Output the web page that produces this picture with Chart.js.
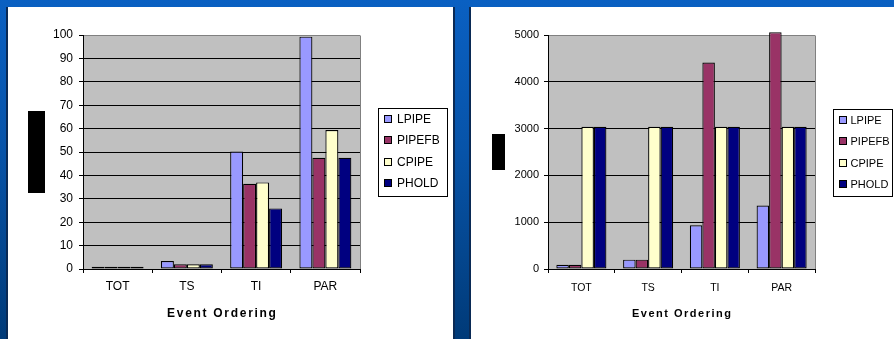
<!DOCTYPE html>
<html>
<head>
<meta charset="utf-8">
<script src="https://cdn.jsdelivr.net/npm/chart.js@4.4.1/dist/chart.umd.min.js"></script>
<style>
  html, body { margin: 0; padding: 0; width: 894px; height: 339px; overflow: hidden; }
  body {
    position: relative;
    background: linear-gradient(180deg, #0a60c2 0%, #0753a8 45%, #04468e 75%, #003a78 100%);
  }
  .panel {
    position: absolute; top: 7px; height: 332px; background: #fff;
    border-left: 2px solid #0a2a55; border-right: 2px solid #0a2a55;
  }
  #panelA { left: 6px; width: 445px; }
  #panelB { left: 469px; width: 423px; border-right: none; }
  canvas { display: block; }
</style>
</head>
<body>
<div class="panel" id="panelA"><canvas id="chartA" width="445" height="332"></canvas></div>
<div class="panel" id="panelB"><canvas id="chartB" width="423" height="332"></canvas></div>
<script>
// ---- data ----
const CATEGORIES = ['TOT', 'TS', 'TI', 'PAR'];
const SERIES = ['LPIPE', 'PIPEFB', 'CPIPE', 'PHOLD'];
const SERIES_COLORS = ['#9999ff', '#993366', '#ffffcc', '#000080'];
const AXIS_TITLE = 'Event Ordering';

// left chart
const A_LPIPE  = [1.0, 3.4, 50.2, 99.3];
const A_PIPEFB = [1.0, 2.0, 36.4, 47.5];
const A_CPIPE  = [1.0, 2.0, 37.0, 59.4];
const A_PHOLD  = [1.0, 2.0, 25.9, 47.5];
const A_TICKS  = [0, 10, 20, 30, 40, 50, 60, 70, 80, 90, 100];

// right chart
const B_LPIPE  = [90, 200, 935, 1355];
const B_PIPEFB = [90, 200, 4410, 5060];
const B_CPIPE  = [3040, 3040, 3040, 3040];
const B_PHOLD  = [3040, 3040, 3040, 3040];
const B_TICKS  = [0, 1000, 2000, 3000, 4000, 5000];

const FONT = 'Arial, "Liberation Sans", sans-serif';

// plot background, frame, boxed legend and spaced axis title
const excelFrame = {
  id: 'excelFrame',
  beforeDraw(chart) {
    const a = chart.chartArea, ctx = chart.ctx;
    ctx.save();
    ctx.fillStyle = '#c0c0c0';
    ctx.fillRect(a.left, a.top, a.right - a.left, a.bottom - a.top);
    ctx.restore();
  },
  beforeDatasetsDraw(chart) {
    const a = chart.chartArea, ctx = chart.ctx;
    ctx.save();
    ctx.strokeStyle = '#808080';
    ctx.lineWidth = 1;
    ctx.beginPath();
    const r = Math.round(a.right) + 0.5;
    ctx.moveTo(r, Math.round(a.bottom));
    ctx.lineTo(r, Math.round(a.top) + 0.5);
    ctx.stroke();
    ctx.restore();
  },
  afterDraw(chart, args, o) {
    const a = chart.chartArea, ctx = chart.ctx;
    ctx.save();
    // y-axis title block
    ctx.fillStyle = '#000';
    ctx.fillRect(o.block.x, o.block.y, o.block.w, o.block.h);

    // x-axis title
    ctx.font = 'bold ' + o.titleSize + 'px ' + FONT;
    ctx.letterSpacing = o.titleSpacing + 'px';
    ctx.textAlign = 'center';
    ctx.textBaseline = 'middle';
    ctx.fillStyle = '#000';
    ctx.fillText(AXIS_TITLE, (a.left + a.right) / 2 + o.titleSpacing / 2, o.titleY);
    ctx.letterSpacing = '0px';

    // legend
    const L = o.legend;
    ctx.fillStyle = '#fff';
    ctx.fillRect(L.x, L.y, L.w, L.h);
    ctx.strokeStyle = '#000';
    ctx.lineWidth = 1;
    ctx.strokeRect(L.x + 0.5, L.y + 0.5, L.w, L.h);
    ctx.font = L.size + 'px ' + FONT;
    ctx.textAlign = 'left';
    ctx.textBaseline = 'middle';
    chart.data.datasets.forEach((ds, i) => {
      const cy = Math.round(L.firstRow + i * L.gap);
      ctx.fillStyle = ds.backgroundColor;
      ctx.fillRect(L.markX, cy - 4, 8, 8);
      ctx.strokeStyle = '#000';
      ctx.strokeRect(L.markX + 0.5, cy - 3.5, 7, 7);
      ctx.fillStyle = '#000';
      ctx.fillText(ds.label, L.textX, cy + 0.5);
    });
    ctx.restore();
  }
};

function makeDatasets(values) {
  return values.map((vals, i) => ({
    label: SERIES[i],
    data: vals,
    backgroundColor: SERIES_COLORS[i],
    borderColor: '#000',
    borderWidth: 1.2,
    borderSkipped: false,
    barPercentage: 1,
    categoryPercentage: 0.75,
    clip: false
  }));
}

function makeChart(id, values, ticks, s) {
  const maxV = ticks[ticks.length - 1];
  return new Chart(document.getElementById(id), {
    type: 'bar',
    data: { labels: CATEGORIES, datasets: makeDatasets(values) },
    plugins: [excelFrame],
    options: {
      responsive: false,
      devicePixelRatio: 1,
      animation: false,
      events: [],
      layout: { padding: { top: 28, right: s.padRight, bottom: 0, left: 0 } },
      plugins: {
        legend: { display: false },
        tooltip: { enabled: false },
        excelFrame: s.frame
      },
      scales: {
        x: {
          offset: true,
          grid: { display: true, drawOnChartArea: false, drawTicks: true, tickLength: 4, tickColor: '#000', offset: true },
          border: { display: true, color: '#000', width: 1 },
          ticks: { color: '#000', font: { family: FONT, size: s.xSize }, padding: s.xPad, maxRotation: 0 },
          afterFit(scale) { scale.height = 70; }
        },
        y: {
          min: ticks[0],
          max: maxV,
          ticks: {
            stepSize: ticks[1] - ticks[0], color: '#000',
            font: { family: FONT, size: s.ySize }, padding: s.yPad,
            callback: (v) => String(v)
          },
          grid: {
            color: (c) => (c.tick && c.tick.value === maxV ? '#808080' : '#000'),
            lineWidth: 1, tickLength: 4, tickColor: '#000'
          },
          border: { display: true, color: '#000', width: 1 },
          afterFit(scale) { scale.width = s.yWidth; }
        }
      }
    }
  });
}

makeChart('chartA', [A_LPIPE, A_PIPEFB, A_CPIPE, A_PHOLD], A_TICKS, {
  padRight: 93, yWidth: 75, xSize: 12, ySize: 12, xPad: 6, yPad: 6,
  frame: {
    block: { x: 20, y: 104, w: 17, h: 82 },
    titleSize: 12, titleSpacing: 1.7, titleY: 307,
    legend: { x: 370, y: 101, w: 69, h: 88, firstRow: 112, gap: 21.3, markX: 376, textX: 389, size: 12 }
  }
});

makeChart('chartB', [B_LPIPE, B_PIPEFB, B_CPIPE, B_PHOLD], B_TICKS, {
  padRight: 79, yWidth: 77, xSize: 10.5, ySize: 11, xPad: 9, yPad: 5,
  frame: {
    block: { x: 21, y: 127, w: 13, h: 36 },
    titleSize: 11, titleSpacing: 1.5, titleY: 307,
    legend: { x: 362, y: 102, w: 59, h: 87, firstRow: 113, gap: 21.3, markX: 368, textX: 379.5, size: 11 }
  }
});
</script>
</body>
</html>
